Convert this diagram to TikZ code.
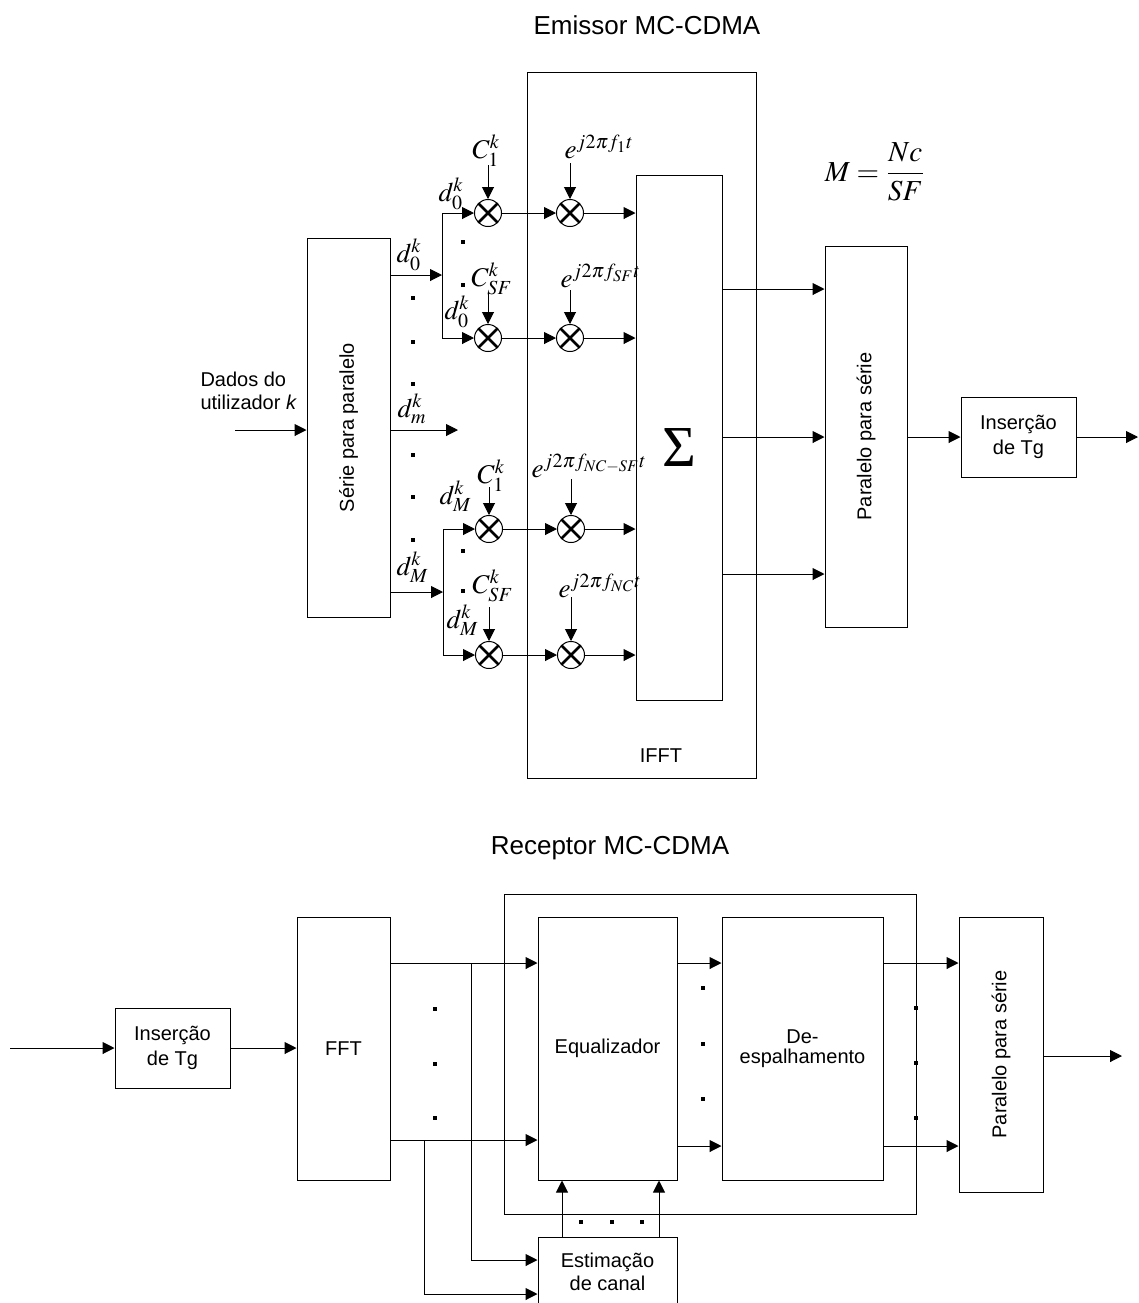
\documentclass[tikz,border=0pt]{standalone}
\usepackage{mathptmx}
\usepackage[no-math]{fontspec}
\setmainfont{Liberation Sans}
\newfontfamily\tms{Liberation Serif}
\usepackage{graphicx}
\usetikzlibrary{arrows.meta}
\begin{document}
\begin{tikzpicture}[x=0.5pt,y=-0.5pt,line width=0.5pt,
  box/.style={draw,rectangle,inner sep=0pt,align=center,font=\fontsize{10}{12}\selectfont},
  txt/.style={inner sep=0pt,align=center,font=\fontsize{10}{12}\selectfont},
  titlet/.style={inner sep=0pt,font=\fontsize{13}{15}\selectfont},
  arr/.style={-{Triangle[length=6pt,width=6pt]}},
  mult/.style={circle,draw,minimum size=13.5pt,inner sep=0pt,
    path picture={\draw[line width=1.4pt]
      (path picture bounding box.north west) -- (path picture bounding box.south east)
      (path picture bounding box.north east) -- (path picture bounding box.south west);}},
  dotn/.style={rectangle,fill,inner sep=0pt,minimum size=2.2pt},
  lab/.style={inner sep=0pt,anchor=base west,font=\fontsize{13.5}{15}\selectfont}]
\useasboundingbox (0,0) rectangle (1139,1303);

% ---------------- Emissor ----------------
\node[titlet] (t1) at (647,25) {Emissor MC-CDMA};

\node[box,minimum width=114.5pt,minimum height=353pt] (ifft) at (641.5,425) {};
\node[txt] (ifftl) at (661,756) {IFFT};
\node[box,minimum width=43pt,minimum height=262.5pt] (sum) at (679,437.5) {};
\node[inner sep=0pt] (sig) at (679,448) {\tms\fontsize{29}{29}\selectfont Σ};
\node[box,minimum width=41.5pt,minimum height=189.5pt] (s2p) at (348.5,427.5) {\rotatebox{90}{Série para paralelo}};
\node[box,minimum width=41pt,minimum height=190.5pt] (p2s) at (866,436.5) {\rotatebox{90}{Paralelo para série}};
\node[box,minimum width=57.5pt,minimum height=40pt,font=\fontsize{10}{12.5}\selectfont] (insT) at (1018.5,437) {Inserção\\de Tg};
\node[txt,align=left,anchor=west,font=\fontsize{10}{11.5}\selectfont] (dados) at (200,391) {Dados do\\utilizador \textit{k}};
\node[inner sep=0pt,font=\fontsize{14.5}{16}\selectfont] (mform) at (875,172) {$\displaystyle M=\frac{Nc}{SF}$};

% multipliers
\node[mult] (m1a) at (488,213) {};
\node[mult] (m1b) at (570,213) {};
\node[mult] (m2a) at (488,338) {};
\node[mult] (m2b) at (570,338) {};
\node[mult] (m3a) at (489,529) {};
\node[mult] (m3b) at (571,529) {};
\node[mult] (m4a) at (489,655) {};
\node[mult] (m4b) at (571,655) {};

% coordinates
\coordinate (in1) at (235,430);
\coordinate (b1) at (442,275);
\coordinate (b1t) at (442,213);
\coordinate (b1b) at (442,338);
\coordinate (dm) at (458,430);
\coordinate (b2) at (443,592);
\coordinate (b2t) at (443,529);
\coordinate (b2b) at (443,655);
\coordinate (c1) at (488,165);
\coordinate (e1) at (570,163);
\coordinate (c2) at (488,292);
\coordinate (e2) at (570,290);
\coordinate (c3) at (489,487);
\coordinate (e3) at (571,479);
\coordinate (c4) at (489,607);
\coordinate (e4) at (571,597);
\coordinate (y289) at (0,289);
\coordinate (y437) at (0,437);
\coordinate (y574) at (0,574);
\coordinate (outT) at (1138,437);

% connectors
\draw[arr] (in1) -- (s2p.west |- in1);
\draw[arr] (s2p.east |- b1) -- (b1);
\draw (b1t) -- (b1b);
\draw[arr] (b1t) -- (m1a);
\draw[arr] (b1b) -- (m2a);
\draw[arr] (s2p.east |- dm) -- (dm);
\draw[arr] (s2p.east |- b2) -- (b2);
\draw (b2t) -- (b2b);
\draw[arr] (b2t) -- (m3a);
\draw[arr] (b2b) -- (m4a);
\foreach \r in {1,2,3,4}{
  \draw[arr] (m\r a) -- (m\r b);
  \draw[arr] (m\r b) -- (m\r b -| sum.west);
}
\draw[arr] (c1) -- (m1a);
\draw[arr] (e1) -- (m1b);
\draw[arr] (c2) -- (m2a);
\draw[arr] (e2) -- (m2b);
\draw[arr] (c3) -- (m3a);
\draw[arr] (e3) -- (m3b);
\draw[arr] (c4) -- (m4a);
\draw[arr] (e4) -- (m4b);
\draw[arr] (sum.east |- y289) -- (p2s.west |- y289);
\draw[arr] (sum.east |- y437) -- (p2s.west |- y437);
\draw[arr] (sum.east |- y574) -- (p2s.west |- y574);
\draw[arr] (p2s.east |- insT.west) -- (insT.west);
\draw[arr] (insT.east) -- (outT);

% labels
\node[lab] (lc1) at (472,158) {$C_1^k$};
\node[lab] (le1) at (564,158) {$e^{j2\pi f_1 t}$};
\node[lab] (ld1) at (438,201) {$d_0^k$};
\node[lab] (ld0) at (396,262) {$d_0^k$};
\node[lab] (lc2) at (471,286) {$C_{SF}^k$};
\node[lab] (le2) at (560,287) {$e^{j2\pi f_{SF} t}$};
\node[lab] (ld2) at (444,319) {$d_0^k$};
\node[lab] (ldm) at (397,417) {$d_m^k$};
\node[lab] (lc3) at (477,483) {$C_1^k$};
\node[lab] (le3) at (531,477) {$e^{j2\pi f_{NC-SF} t}$};
\node[lab] (ld3) at (439,504) {$d_M^k$};
\node[lab] (ldM) at (396,575) {$d_M^k$};
\node[lab] (lc4) at (472,593) {$C_{SF}^k$};
\node[lab] (le4) at (558,597) {$e^{j2\pi f_{NC} t}$};
\node[lab] (ld4) at (446,628) {$d_M^k$};

% dots
\node[dotn] (p1) at (463,242) {};
\node[dotn] (p2) at (463,285) {};
\node[dotn] (p3) at (413,298) {};
\node[dotn] (p4) at (413,342) {};
\node[dotn] (p5) at (413,384) {};
\node[dotn] (p6) at (413,455) {};
\node[dotn] (p7) at (413,497) {};
\node[dotn] (p8) at (413,540) {};
\node[dotn] (p9) at (463,551) {};
\node[dotn] (p10) at (463,591) {};

% ---------------- Receptor ----------------
\node[titlet] (t2) at (610,848) {Receptor MC-CDMA};

\node[box,minimum width=57.5pt,minimum height=40pt,font=\fontsize{10}{12.5}\selectfont] (insB) at (172.5,1048) {Inserção\\de Tg};
\node[box,minimum width=46.5pt,minimum height=131.5pt] (fft) at (343.5,1048.5) {FFT};
\node[draw,rectangle,inner sep=0pt,minimum width=206pt,minimum height=160pt] (outer) at (710,1054) {};
\node[box,minimum width=69.5pt,minimum height=131.5pt] (eq) at (607.5,1048.5) {Equalizador};
\node[box,minimum width=80.5pt,minimum height=131.5pt,font=\fontsize{10}{10}\selectfont] (des) at (802.5,1048.5) {De-\\espalhamento};
\node[box,minimum width=42pt,minimum height=137.5pt] (p2sB) at (1001,1054.5) {\rotatebox{90}{Paralelo para série}};
\node[box,minimum width=69.5pt,minimum height=34.5pt,font=\fontsize{10}{11.5}\selectfont] (est) at (607.5,1271.5) {Estimação\\de canal};

\coordinate (inB) at (10,1048);
\coordinate (ya) at (0,963);
\coordinate (yb) at (0,1140);
\coordinate (yc) at (0,1146);
\coordinate (br1) at (471,963);
\coordinate (br1e) at (471,1260);
\coordinate (br2) at (424,1140);
\coordinate (br2e) at (424,1294);
\coordinate (outB) at (1122,1056);
\coordinate (u1) at (562,0);
\coordinate (u2) at (659,0);

\draw[arr] (inB) -- (insB.west);
\draw[arr] (insB.east) -- (fft.west |- insB.east);
\draw[arr] (fft.east |- ya) -- (eq.west |- ya);
\draw[arr] (fft.east |- yb) -- (eq.west |- yb);
\draw[arr] (br1) -- (br1e) -- (est.west |- br1e);
\draw[arr] (br2) -- (br2e) -- (est.west |- br2e);
\draw[arr] (eq.east |- ya) -- (des.west |- ya);
\draw[arr] (eq.east |- yc) -- (des.west |- yc);
\draw[arr] (des.east |- ya) -- (p2sB.west |- ya);
\draw[arr] (des.east |- yc) -- (p2sB.west |- yc);
\draw[arr] (p2sB.east |- outB) -- (outB);
\draw[arr] (est.north -| u1) -- (eq.south -| u1);
\draw[arr] (est.north -| u2) -- (eq.south -| u2);

\node[dotn] (q1) at (435,1009) {};
\node[dotn] (q2) at (435,1064) {};
\node[dotn] (q3) at (435,1118) {};
\node[dotn] (q4) at (703,988) {};
\node[dotn] (q5) at (703,1044) {};
\node[dotn] (q6) at (703,1099) {};
\node[dotn] (q7) at (916,1008) {};
\node[dotn] (q8) at (916,1063) {};
\node[dotn] (q9) at (916,1118) {};
\node[dotn] (q10) at (581,1222) {};
\node[dotn] (q11) at (612,1222) {};
\node[dotn] (q12) at (642,1222) {};
\end{tikzpicture}
\end{document}
